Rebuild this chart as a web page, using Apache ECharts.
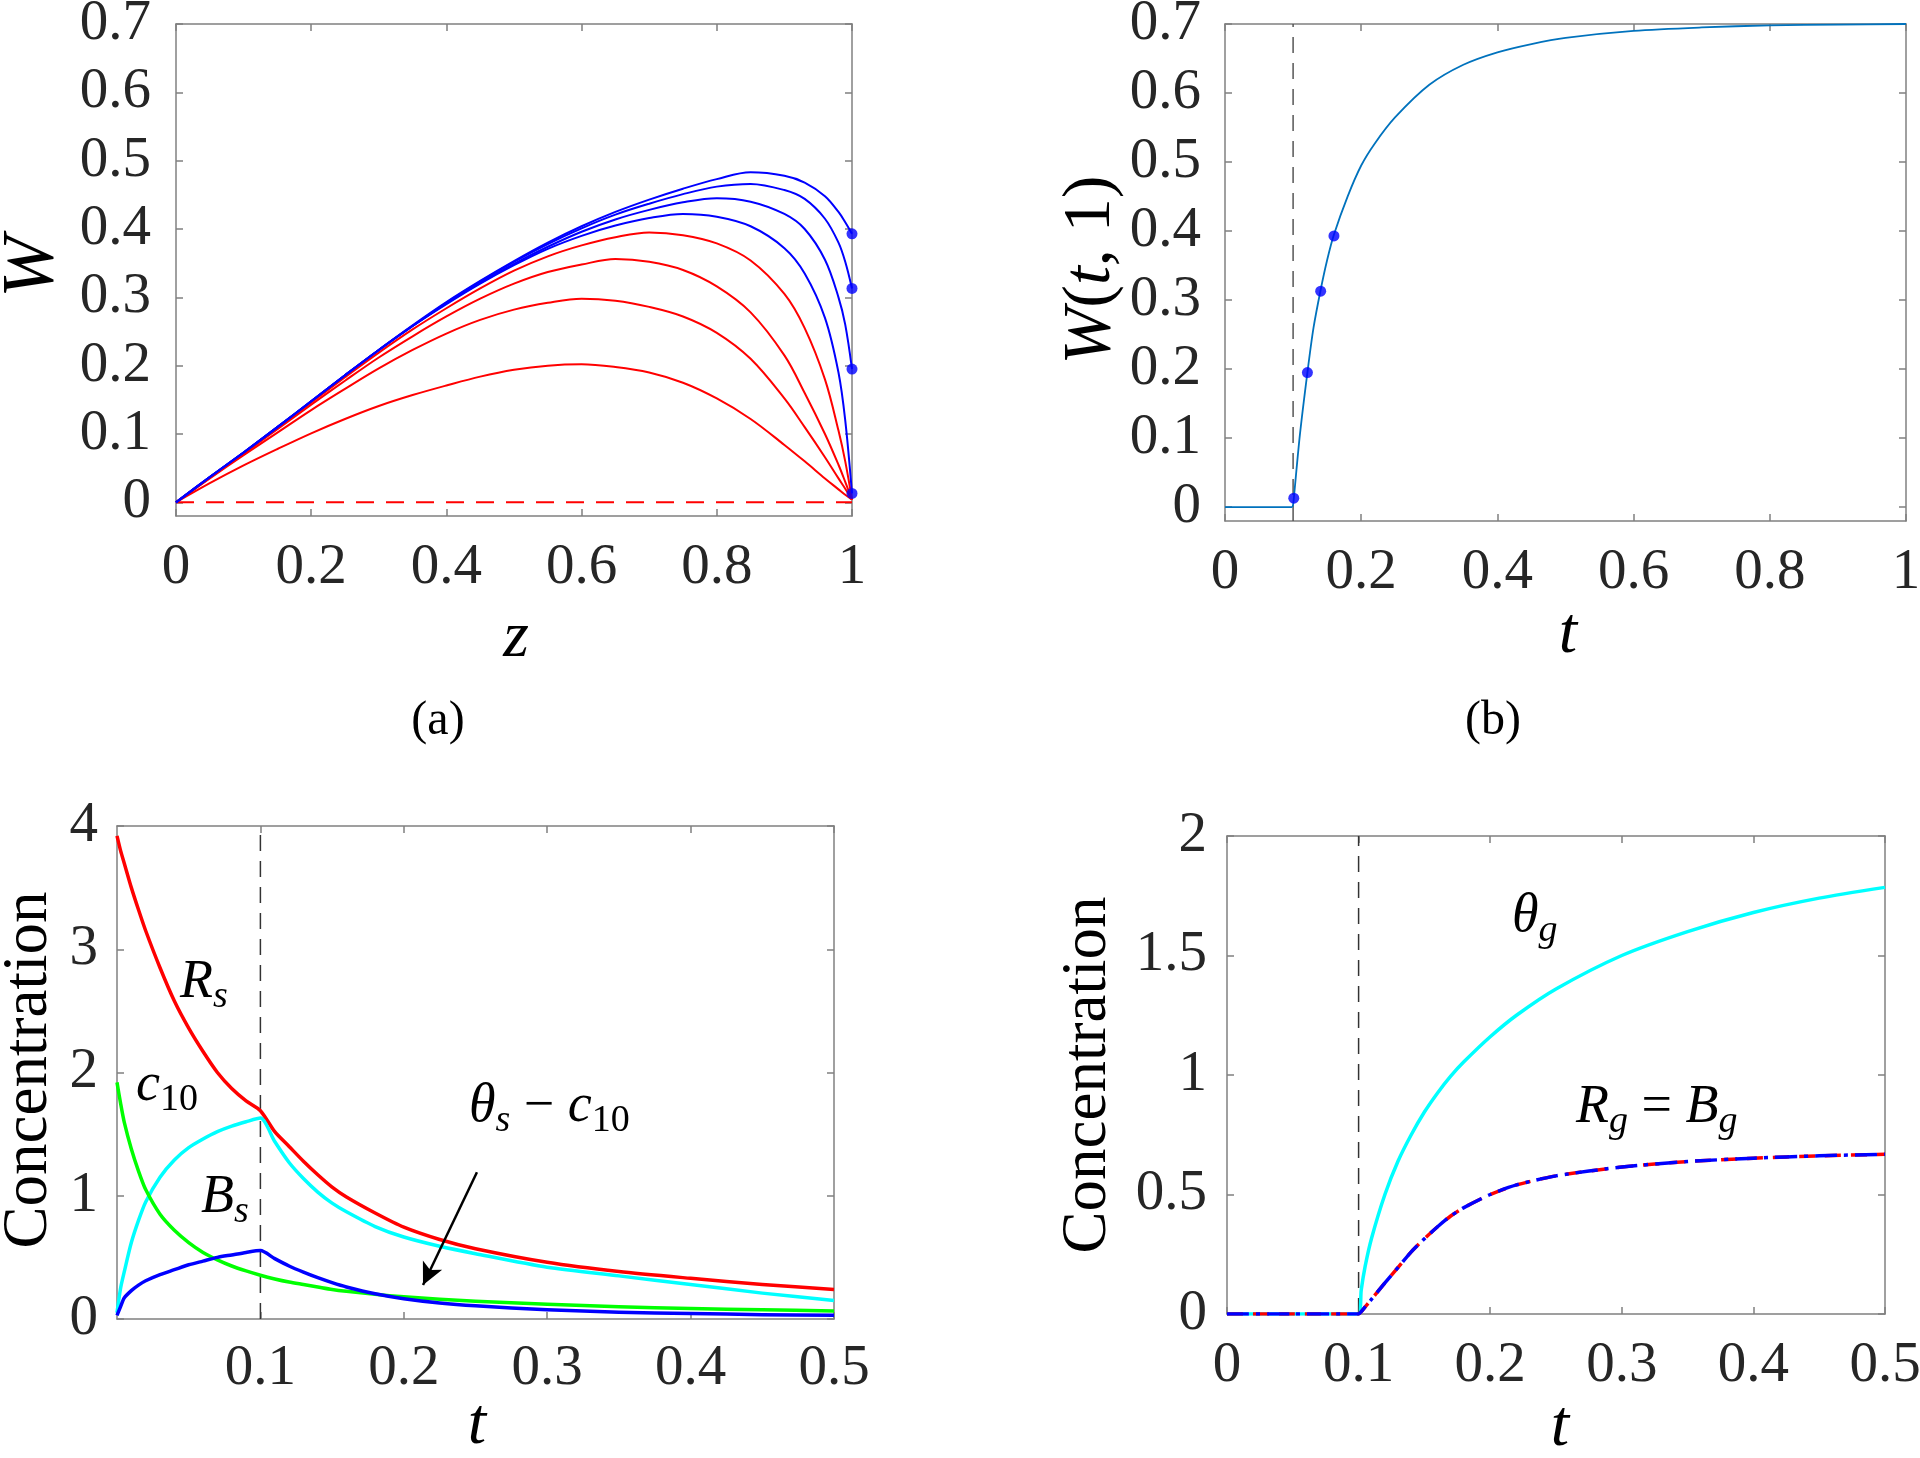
<!DOCTYPE html>
<html><head><meta charset="utf-8">
<script src="https://cdn.jsdelivr.net/npm/echarts@6/dist/echarts.min.js"></script>
<style>html,body{margin:0;padding:0;background:#fff}#c{width:1920px;height:1458px}</style>
</head><body><div id="c"></div>
<script>
// ---------- Panel (a): W(z) profiles ----------
const zA = [0,0.05,0.1,0.15,0.2,0.25,0.3,0.35,0.4,0.45,0.5,0.55,0.6,0.65,0.7,0.75,0.8,0.85,0.9,0.93,0.96,0.98,0.99,1];
const wRed1 = [0,.028,.054,.078,.101,.122,.141,.157,.171,.184,.194,.2,.202,.198,.19,.175,.152,.122,.084,.06,.035,.019,.011,.004];
const wRed2 = [0,.035,.069,.102,.135,.166,.196,.223,.247,.267,.282,.292,.298,.295,.286,.272,.248,.21,.152,.11,.066,.035,.02,.004];
const wRed3 = [0,.036,.071,.107,.143,.178,.212,.243,.272,.298,.32,.337,.348,.356,.352,.34,.316,.278,.215,.16,.1,.055,.03,.004];
const wRed4 = [0,.036,.072,.109,.146,.183,.219,.253,.284,.313,.339,.36,.376,.388,.395,.391,.379,.354,.305,.255,.18,.105,.06,.004];
const wBlue1 = [0,.037,.073,.11,.148,.186,.223,.258,.29,.32,.347,.371,.39,.405,.416,.422,.418,.404,.372,.335,.27,.19,.12,.013];
const wBlue2 = [0,.037,.073,.11,.148,.186,.223,.258,.291,.321,.349,.374,.396,.414,.428,.439,.445,.44,.422,.4,.355,.3,.26,.195];
const wBlue3 = [0,.037,.073,.11,.148,.186,.223,.258,.292,.323,.352,.378,.401,.421,.437,.451,.462,.466,.457,.444,.415,.38,.352,.313];
const wBlue4 = [0,.037,.073,.11,.148,.186,.223,.259,.293,.324,.353,.38,.404,.425,.443,.459,.473,.483,.478,.468,.448,.425,.41,.393];
const wInitZ = [0,1];
const wInit = [0,0];
const dotW = [0.013,0.195,0.313,0.393];
const dotZ = [1,1,1,1];
// ---------- Panel (b): W(t,1) ----------
const tB = [0,0.05,0.098,0.1,0.101,0.11,0.121,0.13,0.1405,0.15,0.16,0.18,0.2,0.22,0.25,0.3,0.35,0.4,0.45,0.5,0.6,0.7,0.8,0.9,1.0];
const wB = [0,0,0,0.004,0.0124,0.105,0.195,0.26,0.315,0.358,0.395,0.45,0.495,0.527,0.565,0.612,0.641,0.659,0.671,0.68,0.69,0.695,0.698,0.699,0.700];
const dotT = [0.101,0.121,0.1405,0.160];
const switchT = 0.1;
// ---------- Panel (c): surface concentrations ----------
const tC = [0,0.0025,0.005,0.01,0.015,0.02,0.03,0.04,0.05,0.06,0.07,0.08,0.09,0.1,0.11,0.12,0.13,0.14,0.15,0.16,0.18,0.2,0.225,0.25,0.3,0.35,0.4,0.45,0.5];
const Rs = [3.92,3.8,3.7,3.5,3.32,3.15,2.85,2.58,2.36,2.17,2.0,1.87,1.77,1.69,1.52,1.40,1.28,1.17,1.07,0.99,0.86,0.745,0.645,0.57,0.46,0.385,0.33,0.28,0.24];
const thetaSc = [0.05,0.25,0.38,0.62,0.8,0.95,1.15,1.29,1.39,1.46,1.52,1.565,1.60,1.63,1.44,1.27,1.14,1.03,0.94,0.87,0.75,0.665,0.59,0.53,0.42,0.35,0.28,0.21,0.15];
const c10 = [1.92,1.75,1.6,1.38,1.2,1.05,0.85,0.72,0.62,0.54,0.48,0.43,0.39,0.355,0.325,0.3,0.28,0.26,0.24,0.225,0.2,0.18,0.16,0.145,0.12,0.1,0.085,0.075,0.065];
const Bs = [0.03,0.1,0.17,0.23,0.275,0.31,0.36,0.4,0.44,0.47,0.5,0.52,0.54,0.555,0.49,0.43,0.38,0.335,0.295,0.26,0.205,0.165,0.13,0.107,0.075,0.055,0.045,0.035,0.03];
const arrowFrom = [0.251,1.19];
const arrowTo = [0.2134,0.276];
// ---------- Panel (d): gas concentrations ----------
const tD = [0,0.05,0.1,0.102,0.105,0.11,0.12,0.13,0.14,0.15,0.16,0.17,0.18,0.2,0.22,0.25,0.3,0.35,0.4,0.45,0.5];
const thetaG = [0,0,0,0.1,0.2,0.32,0.5,0.64,0.75,0.845,0.925,0.995,1.055,1.16,1.25,1.36,1.5,1.6,1.68,1.74,1.785];
const RgBg = [0,0,0,0.01,0.03,0.063,0.13,0.195,0.26,0.315,0.365,0.41,0.445,0.5,0.54,0.578,0.615,0.638,0.652,0.662,0.668];
// ---------- tick values ----------
const ticksUnit = [0,0.2,0.4,0.6,0.8,1];
const ticksW = [0,0.1,0.2,0.3,0.4,0.5,0.6,0.7];
const ticksTc = [0.1,0.2,0.3,0.4,0.5];
const ticksTd = [0,0.1,0.2,0.3,0.4,0.5];
const ticksCc = [0,1,2,3,4];
const ticksCd = [0,0.5,1,1.5,2];

const FONT = 'Liberation Serif';
const BOX = '#808080';
const TXT = '#262626';
const zip = (a,b) => a.map((v,i)=>[v,b[i]]);

const grids = [
  {left:176, top:24, width:676, height:492},
  {left:1225, top:24, width:681, height:497},
  {left:117, top:826, width:717, height:493},
  {left:1227, top:836, width:658, height:478}
].map(g => Object.assign({show:false, containLabel:false, outerBoundsMode:'none'}, g));

const xAxes = [], yAxes = [];
function addAxes(gi, xr, yr, xl, xt, yl, yt, xm, ym, ylPad){
  const line = {show:true, onZero:false, lineStyle:{color:BOX, width:1.5}};
  const fmt = v => String(+(+v).toFixed(4));
  xAxes.push({type:'value', gridIndex:gi, position:'bottom', min:xr[0], max:xr[1],
    axisLine:line, splitLine:{show:false},
    axisTick:{show:true, inside:true, length:7, customValues:xt, lineStyle:{color:BOX, width:1.5}},
    axisLabel:{show:true, customValues:xl, margin:xm, fontSize:57, fontFamily:FONT, color:TXT, formatter:fmt}});
  xAxes.push({type:'value', gridIndex:gi, position:'top', min:xr[0], max:xr[1],
    axisLine:line, splitLine:{show:false},
    axisTick:{show:true, inside:true, length:7, customValues:xt, lineStyle:{color:BOX, width:1.5}},
    axisLabel:{show:false}});
  yAxes.push({type:'value', gridIndex:gi, position:'left', min:yr[0], max:yr[1],
    axisLine:line, splitLine:{show:false},
    axisTick:{show:true, inside:true, length:7, customValues:yt, lineStyle:{color:BOX, width:1.5}},
    axisLabel:{show:true, customValues:yl, margin:ym, fontSize:57, fontFamily:FONT, color:TXT, formatter:fmt, padding:ylPad||0}});
  yAxes.push({type:'value', gridIndex:gi, position:'right', min:yr[0], max:yr[1],
    axisLine:line, splitLine:{show:false},
    axisTick:{show:true, inside:true, length:7, customValues:yt, lineStyle:{color:BOX, width:1.5}},
    axisLabel:{show:false}});
}
addAxes(0,[0,1],[-0.02,0.7],ticksUnit,ticksUnit,ticksW,ticksW,24,25);
addAxes(1,[0,1],[-0.02,0.7],ticksUnit,ticksUnit,ticksW,ticksW,24,24);
addAxes(2,[0,0.5],[0,4],ticksTc,ticksTc,ticksCc,ticksCc,22,19,[14,0,0,0]);
addAxes(3,[0,0.5],[0,2],ticksTd,ticksTd,ticksCd,ticksCd,24,20);

function ln(p, x, y, color, width, type, z, smooth){
  return {type:'line', xAxisIndex:2*p, yAxisIndex:2*p, data:zip(x,y), symbol:'none', showSymbol:false,
    smooth: smooth===undefined?0.35:smooth, z:z||2, silent:true,
    lineStyle:{color, width, type: type||'solid', cap:'butt', join:'round'}};
}
const series = [];
// (a)
series.push(ln(0, wInitZ, wInit, '#ff0000', 2, [18,12], 2, false));
[wRed1,wRed2,wRed3,wRed4].forEach(w => series.push(ln(0, zA, w, '#ff0000', 2, 'solid', 3)));
[wBlue1,wBlue2,wBlue3,wBlue4].forEach(w => series.push(ln(0, zA, w, '#0000ff', 2, 'solid', 4)));
series.push({type:'scatter', xAxisIndex:0, yAxisIndex:0, data:zip(dotZ,dotW), symbol:'circle', symbolSize:11,
  itemStyle:{color:'#0000ff'}, z:5, silent:true});
// (b)
series.push(ln(1, [switchT,switchT], [-0.02,0.7], '#555555', 1.5, [16,10], 2, false));
series.push(ln(1, tB, wB, '#0072bd', 1.8, 'solid', 3, 0.3));
series.push({type:'scatter', xAxisIndex:2, yAxisIndex:2, data:zip(dotT,dotW), symbol:'circle', symbolSize:11,
  itemStyle:{color:'#0000ff'}, z:5, silent:true});
// (c)
series.push(ln(2, [switchT,switchT], [0,4], '#333333', 1.5, [16,10], 2, false));
series.push(ln(2, tC, Rs, '#ff0000', 3.5, 'solid', 3, 0.25));
series.push(ln(2, tC, thetaSc, '#00ffff', 3.5, 'solid', 3, 0.25));
const green = ln(2, tC, c10, '#00ff00', 3.5, 'solid', 3, 0.25);
green.markLine = {silent:true, animation:false, symbol:['none','arrow'], symbolSize:[16,22],
  lineStyle:{color:'#000', width:2.5, type:'solid'}, label:{show:false},
  data:[[{coord:arrowFrom},{coord:arrowTo}]]};
series.push(green);
series.push(ln(2, tC, Bs, '#0000ff', 3.5, 'solid', 4, 0.25));
// (d)
series.push(ln(3, [switchT,switchT], [0,2], '#333333', 1.5, [16,10], 2, false));
series.push(ln(3, tD, thetaG, '#00ffff', 3.5, 'solid', 3, 0.25));
series.push(ln(3, tD, RgBg, '#ff0000', 3.5, [16,10], 4, 0.25));
series.push(ln(3, tD, RgBg, '#0000ff', 3.5, [22,7,4,7], 5, 0.25));

// ---------- text helpers ----------
const mctx = document.createElement('canvas').getContext('2d');
function measure(t, size, it){ mctx.font = (it?'italic ':'') + size + 'px ' + FONT; return mctx.measureText(t).width; }
function mathText(x, base, pieces, size){
  const sub = Math.round(size*0.7);
  let cx = x; const out = [];
  pieces.forEach(([t, it, isSub]) => {
    const fs = isSub ? sub : size;
    const b = base + (isSub ? size*0.17 : 0);
    out.push({type:'text', x:cx, y:b - 0.305*fs, silent:true,
      style:{text:t, fontSize:fs, fontFamily:FONT, fontStyle:it?'italic':'normal', fill:'#000', align:'left', verticalAlign:'middle'}});
    cx += measure(t, fs, it);
  });
  return out;
}
function label(x, y, text, size, it, rot){
  return {type:'text', x, y, rotation: rot?Math.PI/2:0, silent:true,
    style:{text, fontSize:size, fontFamily:FONT, fontStyle:it?'italic':'normal', fill:'#000', align:'center', verticalAlign:'middle'}};
}
const SP = '\u2005';
const graphics = [
  label(34, 267, 'W', 74, true, true),
  {type:'text', x:1091, y:270, rotation:Math.PI/2, silent:true,
   style:{text:'{i|W}{n|(}{i|t}{n|, 1)}', align:'center', verticalAlign:'middle',
     rich:{i:{fontSize:68, fontFamily:FONT, fontStyle:'italic', fill:'#000'}, n:{fontSize:68, fontFamily:FONT, fill:'#000'}}}},
  label(516, 639, 'z', 66, true),
  label(1568, 635, 't', 66, true),
  label(477, 1426, 't', 66, true),
  label(1560, 1428, 't', 66, true),
  label(29, 1070, 'Concentration', 63, false, true),
  label(1088, 1075, 'Concentration', 63, false, true),
  label(438, 721, '(a)', 48, false),
  label(1493, 721, '(b)', 48, false),
  ...mathText(180, 999, [['R',true],['s',true,true]], 54),
  ...mathText(136, 1102, [['c',true],['10',false,true]], 54),
  ...mathText(201, 1214, [['B',true],['s',true,true]], 54),
  ...mathText(469, 1123, [['θ',true],['s',true,true],[SP+'−'+SP,false],['c',true],['10',false,true]], 54),
  ...mathText(1512, 933, [['θ',true],['g',true,true]], 54),
  ...mathText(1576, 1124, [['R',true],['g',true,true],[SP+'='+SP,false],['B',true],['g',true,true]], 54)
];

const chart = echarts.init(document.getElementById('c'), null, {renderer:'canvas'});
chart.setOption({
  animation:false, backgroundColor:'#ffffff',
  grid:grids, xAxis:xAxes, yAxis:yAxes, series, graphic:graphics
});
</script></body></html>
